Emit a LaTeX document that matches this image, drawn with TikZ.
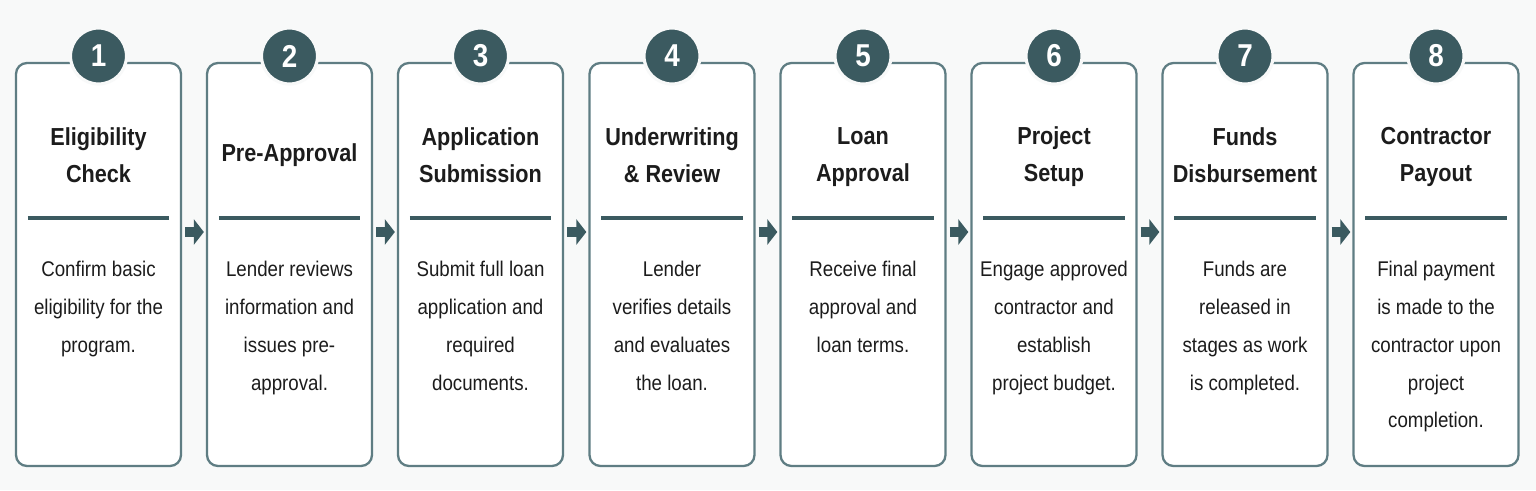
\documentclass[tikz,border=0pt]{standalone}
\usepackage{fontspec}
\setmainfont{Liberation Sans}[FakeStretch=0.88]
\usepackage{xcolor}
\usepackage{tikz}
\usetikzlibrary{arrows.meta,positioning,calc}

\definecolor{tealdark}{HTML}{3B5A60}
\definecolor{tealline}{HTML}{5F7D83}
\definecolor{paper}{HTML}{F8F9F9}
\definecolor{ink}{HTML}{1C1C1C}

\begin{document}
\begin{tikzpicture}[
    >=Latex,
    stepbox/.style={
        draw=tealline,
        line width=1.3pt,
        rectangle,
        rounded corners=0.22cm,
        minimum width=3.3cm,
        minimum height=8.06cm,
        fill=white
    },
    badge/.style={
        circle,
        fill=tealdark,
        draw=paper,
        line width=1.8pt,
        minimum size=1.12cm,
        inner sep=0pt,
        text=white,
        font=\bfseries\fontsize{18}{18}\selectfont
    },
    title/.style={
        align=center,
        text=ink,
        font=\bfseries\fontsize{14}{21}\selectfont
    },
    desc/.style={
        anchor=north,
        align=center,
        text=ink,
        inner sep=0pt,
        font=\fontsize{12.1}{21.5}\selectfont
    },
    rule/.style={
        draw=tealdark,
        line width=2.3pt
    },
    flow/.style={
        draw=tealdark,
        line width=5.7pt,
        -{Triangle[length=0.2cm,width=0.5cm]},
        shorten <=0.06cm,
        shorten >=0.04cm
    }
]

% background / page size
\fill[paper] (0,0) rectangle (30.72,9.8);
\useasboundingbox (0,0) rectangle (30.72,9.8);

% =========================================================
% step boxes
% =========================================================
\node[stepbox] (s1) at (1.97,4.51) {};
\node[stepbox] (s2) at (5.79,4.51) {};
\node[stepbox] (s3) at (9.61,4.51) {};
\node[stepbox] (s4) at (13.44,4.51) {};
\node[stepbox] (s5) at (17.26,4.51) {};
\node[stepbox] (s6) at (21.08,4.51) {};
\node[stepbox] (s7) at (24.90,4.51) {};
\node[stepbox] (s8) at (28.72,4.51) {};

% number badges on the top edge
\node[badge] (n1) at (1.97,8.68) {1};
\node[badge] (n2) at (5.79,8.68) {2};
\node[badge] (n3) at (9.61,8.68) {3};
\node[badge] (n4) at (13.44,8.68) {4};
\node[badge] (n5) at (17.26,8.68) {5};
\node[badge] (n6) at (21.08,8.68) {6};
\node[badge] (n7) at (24.90,8.68) {7};
\node[badge] (n8) at (28.72,8.68) {8};

% titles
\node[title] (t1) at (1.97,6.70) {Eligibility\\Check};
\node[title] (t2) at (5.79,6.70) {Pre-Approval};
\node[title] (t3) at (9.61,6.70) {Application\\Submission};
\node[title] (t4) at (13.44,6.70) {Underwriting\\\& Review};
\node[title] (t5) at (17.26,6.66) {Loan\\Approval};
\node[title] (t6) at (21.08,6.66) {Project\\Setup};
\node[title] (t7) at (24.90,6.70) {Funds\\Disbursement};
\node[title] (t8) at (28.72,6.66) {Contractor\\Payout};

% dividers under the titles
\draw[rule] ($(s1.west)+(0.26,0.93)$) -- ($(s1.east)+(-0.26,0.93)$);
\draw[rule] ($(s2.west)+(0.26,0.93)$) -- ($(s2.east)+(-0.26,0.93)$);
\draw[rule] ($(s3.west)+(0.26,0.93)$) -- ($(s3.east)+(-0.26,0.93)$);
\draw[rule] ($(s4.west)+(0.26,0.93)$) -- ($(s4.east)+(-0.26,0.93)$);
\draw[rule] ($(s5.west)+(0.26,0.93)$) -- ($(s5.east)+(-0.26,0.93)$);
\draw[rule] ($(s6.west)+(0.26,0.93)$) -- ($(s6.east)+(-0.26,0.93)$);
\draw[rule] ($(s7.west)+(0.26,0.93)$) -- ($(s7.east)+(-0.26,0.93)$);
\draw[rule] ($(s8.west)+(0.26,0.93)$) -- ($(s8.east)+(-0.26,0.93)$);

% descriptions
\node[desc] (d1) at (1.97,4.58) {Confirm basic\\eligibility for the\\program.};
\node[desc] (d2) at (5.79,4.58) {Lender reviews\\information and\\issues pre-\\approval.};
\node[desc] (d3) at (9.61,4.58) {Submit full loan\\application and\\required\\documents.};
\node[desc] (d4) at (13.44,4.58) {Lender\\verifies details\\and evaluates\\the loan.};
\node[desc] (d5) at (17.26,4.58) {Receive final\\approval and\\loan terms.};
\node[desc] (d6) at (21.08,4.58) {Engage approved\\contractor and\\establish\\project budget.};
\node[desc] (d7) at (24.90,4.58) {Funds are\\released in\\stages as work\\is completed.};
\node[desc] (d8) at (28.72,4.58) {Final payment\\is made to the\\contractor upon\\project\\completion.};

% =========================================================
% arrows between steps
% =========================================================
\draw[flow] ($(s1.east)+(0,0.65)$) -- ($(s2.west)+(0,0.65)$);
\draw[flow] ($(s2.east)+(0,0.65)$) -- ($(s3.west)+(0,0.65)$);
\draw[flow] ($(s3.east)+(0,0.65)$) -- ($(s4.west)+(0,0.65)$);
\draw[flow] ($(s4.east)+(0,0.65)$) -- ($(s5.west)+(0,0.65)$);
\draw[flow] ($(s5.east)+(0,0.65)$) -- ($(s6.west)+(0,0.65)$);
\draw[flow] ($(s6.east)+(0,0.65)$) -- ($(s7.west)+(0,0.65)$);
\draw[flow] ($(s7.east)+(0,0.65)$) -- ($(s8.west)+(0,0.65)$);

\end{tikzpicture}
\end{document}
